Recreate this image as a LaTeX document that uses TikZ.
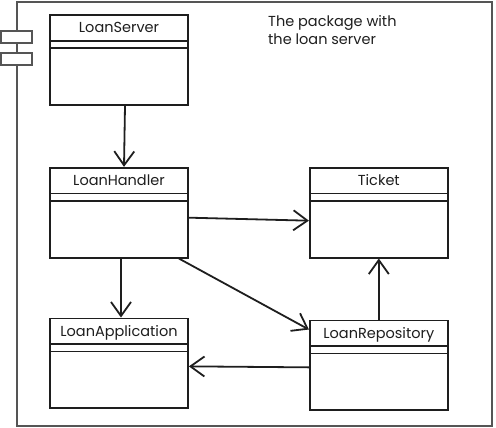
\documentclass[tikz,border=0pt]{standalone}
\usepackage{fontspec}
\setmainfont{Poppins}
\usetikzlibrary{arrows.meta,positioning,shapes.multipart}
\definecolor{PkgLine}{HTML}{555555}
\definecolor{ClassInk}{HTML}{1E1E1E}

\begin{document}
\begin{tikzpicture}[
  x=1pt,y=-1pt,
  node distance=61pt and 120pt,
  pkg/.style={draw=PkgLine,line width=1.2pt,minimum width=475pt,minimum height=424pt,inner sep=0pt},
  tab/.style={draw=PkgLine,line width=1.2pt,fill=white,minimum width=31pt,minimum height=12pt,inner sep=0pt},
  cls/.style={rectangle split,rectangle split parts=3,draw=ClassInk,line width=1.8pt,fill=white,
    minimum width=138pt,inner ysep=0pt,inner xsep=4pt,
    rectangle split empty part height=5pt,rectangle split empty part depth=0pt,
    font=\fontsize{14.5}{17}\selectfont,text=ClassInk},
  arrow/.style={-{Straight Barb[length=14pt,width=20pt]},draw=ClassInk,line width=1.8pt},
  note/.style={text=ClassInk,font=\fontsize{14.5}{18}\selectfont,align=left,inner sep=0pt}
]
\useasboundingbox (0,0) rectangle (496,428);
\node[pkg] (package) at (254.5,214) {};
\node[tab] (tab1) at (16.5,37) {};
\node[tab] (tab2) at (16.5,59) {};
\node[note,anchor=north west] (caption) at (268,15) {The package with\\the loan server};
% classes
\node[cls] (server) at (119,60) {\rule[-7pt]{0pt}{24pt}LoanServer\nodepart{two}\nodepart{three}\rule{0pt}{55pt}};
\node[cls,below=of server] (handler) {\rule[-7pt]{0pt}{24pt}LoanHandler\nodepart{two}\nodepart{three}\rule{0pt}{55pt}};
\node[cls,right=of handler] (ticket) {\rule[-7pt]{0pt}{24pt}Ticket\nodepart{two}\nodepart{three}\rule{0pt}{55pt}};
\node[cls,below=59pt of handler] (application) {\rule[-7pt]{0pt}{24pt}LoanApplication\nodepart{two}\nodepart{three}\rule{0pt}{55pt}};
\node[cls,below=of ticket] (repository) {\rule[-7pt]{0pt}{24pt}LoanRepository\nodepart{two}\nodepart{three}\rule{0pt}{55pt}};
% dependencies
\draw[arrow] ([xshift=6pt]server.south) -- ([xshift=5pt]handler.north);
\draw[arrow] ([yshift=-5pt]handler.east) -- ([yshift=-8pt]ticket.west);
\draw[arrow] ([xshift=2pt]handler.south) -- ([xshift=2pt]application.north);
\draw[arrow] ([xshift=-10pt]handler.south east) -- ([yshift=-10pt]repository.north west);
\draw[arrow] (repository.north) -- (ticket.south);
\draw[arrow] ([yshift=-2pt]repository.west) -- ([yshift=-3pt]application.east);
\end{tikzpicture}
\end{document}
